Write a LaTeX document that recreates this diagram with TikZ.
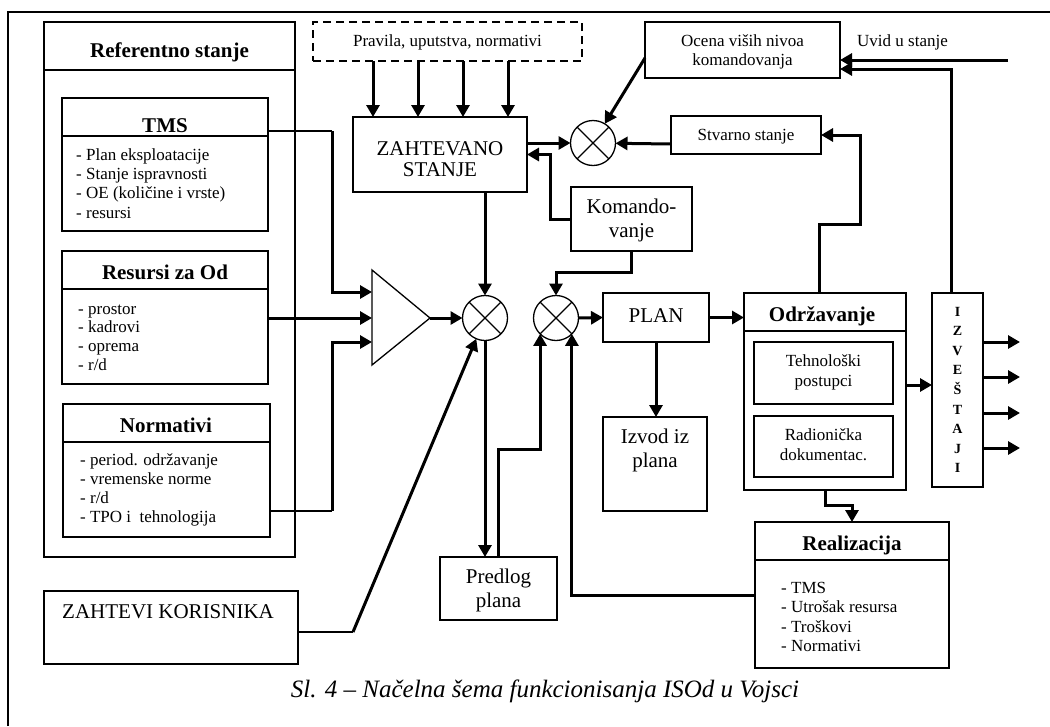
\documentclass[tikz,border=0pt]{standalone}
\usepackage{fontspec}
\setmainfont{Liberation Serif}
\usetikzlibrary{arrows.meta}
\newcommand\fbody{\fontsize{17}{19}\selectfont}
\newcommand\fbig{\fontsize{21}{24}\selectfont}
\newcommand\fhead{\fontsize{21}{24}\selectfont\bfseries}
\newcommand\fizv{\fontsize{14}{16}\selectfont\bfseries}
\newcommand\fcap{\fontsize{25}{28}\selectfont\itshape}
\tikzset{
  box/.style={draw, line width=1.3pt, inner sep=0pt, outer sep=0pt, rectangle, anchor=north west},
  dbox/.style={box, dash pattern=on 8pt off 5pt, line width=2pt},
  sep/.style={line width=1.3pt},
  conn/.style={line width=3pt},
  thinconn/.style={line width=1.4pt},
  arr/.style={-{Triangle[length=12pt,width=13pt]}},
  sum/.style={draw, circle, line width=1.3pt, minimum size=45pt, inner sep=0pt, outer sep=0pt},
  tb/.style={inner sep=0pt, anchor=base, font=\fbody},
  tl/.style={inner sep=0pt, anchor=base west, font=\fbody},
  tg/.style={inner sep=0pt, anchor=base, font=\fbig},
  th/.style={inner sep=0pt, anchor=base, font=\fhead},
}
\begin{document}
\begin{tikzpicture}[x=1pt,y=-1pt]
\useasboundingbox (0,0) rectangle (1050,726);
% frame
\draw[line width=1.3pt] (8,726) -- (8,12) -- (1050,12);

% Referentno stanje
\node[box, minimum width=251pt, minimum height=535pt] (ref) at (44,22) {};
\draw[sep] (44,70) -- (295,70);
\node[th] (refT) at (169.5,57) {Referentno stanje};

% TMS
\node[box, minimum width=206pt, minimum height=133pt] (tms) at (62,98) {};
\draw[sep] (62,136) -- (268,136);
\node[th] (tmsT) at (165,132) {TMS};
\node[tl] (tms1) at (76,160.5) {- Plan eksploatacije};
\node[tl] (tms2) at (76,179.7) {- Stanje ispravnosti};
\node[tl] (tms3) at (76,198.9) {- OE (količine i vrste)};
\node[tl] (tms4) at (76,218.1) {- resursi};

% Resursi za Od
\node[box, minimum width=206pt, minimum height=133pt] (rs) at (62,251) {};
\draw[sep] (62,289) -- (268,289);
\node[th] (rsT) at (165,279) {Resursi za Od};
\node[tl] (rs1) at (78,314) {- prostor};
\node[tl] (rs2) at (78,332.8) {- kadrovi};
\node[tl] (rs3) at (78,351.6) {- oprema};
\node[tl] (rs4) at (78,370.4) {- r/d};

% Normativi
\node[box, minimum width=207pt, minimum height=133pt] (nm) at (63,404) {};
\draw[sep] (63,442) -- (270,442);
\node[th] (nmT) at (166,432) {Normativi};
\node[tl] (nm1) at (80,465) {- period. održavanje};
\node[tl] (nm2) at (80,484) {- vremenske norme};
\node[tl] (nm3) at (80,503) {- r/d};
\node[tl] (nm4) at (80,522) {- TPO i~ tehnologija};

% Zahtevi korisnika
\node[box, minimum width=254pt, minimum height=73pt] (zk) at (44,591) {};
\node[inner sep=0pt, anchor=base west, font=\fbig] (zkT) at (62,618) {ZAHTEVI KORISNIKA};

% Pravila
\node[dbox, minimum width=269pt, minimum height=39pt] (pr) at (313,22) {};
\node[tb] (prT) at (447.5,46.7) {Pravila, uputstva, normativi};

% Zahtevano stanje
\node[box, minimum width=174pt, minimum height=75pt] (zs) at (353,117) {};
\node[tg] (zs1) at (440,155) {ZAHTEVANO};
\node[tg] (zs2) at (440,176) {STANJE};

% Ocena
\node[box, minimum width=195pt, minimum height=56pt] (oc) at (645,22) {};
\node[tb] (oc1) at (742.5,46.5) {Ocena viših nivoa};
\node[tb] (oc2) at (742.5,65) {komandovanja};
\node[tl] (uvid) at (857,46.5) {Uvid u stanje};

% Stvarno stanje
\node[box, minimum width=150pt, minimum height=38pt] (st) at (671,116) {};
\node[tb] (stT) at (746,140) {Stvarno stanje};

% Komandovanje
\node[box, minimum width=121pt, minimum height=64pt] (km) at (571,187) {};
\node[tg] (km1) at (631.5,213) {Komando-};
\node[tg] (km2) at (631.5,237) {vanje};

% summing junctions
\node[sum] (c1) at (485,318) {};
\node[sum] (c2) at (556,318) {};
\node[sum] (c3) at (593,143) {};
\foreach \c in {c1,c2,c3}
  \draw[sep] (\c.45) -- (\c.225) (\c.135) -- (\c.315);

% amplifier triangle
\draw[sep] (372,270) -- (430,318) -- (372,365) -- cycle;
\coordinate (t1) at (372,292);
\coordinate (t2) at (372,318);
\coordinate (t3) at (372,342);
\coordinate (tt) at (430,318);

% Plan
\node[box, minimum width=106pt, minimum height=49pt] (pl) at (603,293) {};
\node[tg] (plT) at (656,322) {PLAN};

% Izvod iz plana
\node[box, minimum width=104pt, minimum height=94pt] (iz) at (603,417) {};
\node[tg] (iz1) at (655,443) {Izvod iz};
\node[tg] (iz2) at (655,467) {plana};

% Predlog plana
\node[box, minimum width=117pt, minimum height=63pt] (pp) at (440,557) {};
\node[tg] (pp1) at (498.5,583) {Predlog};
\node[tg] (pp2) at (498.5,607) {plana};

% Odrzavanje
\node[box, minimum width=162pt, minimum height=197pt] (od) at (744,293) {};
\draw[sep] (744,331) -- (906,331);
\node[th] (odT) at (822,321) {Održavanje};
\node[box, minimum width=139pt, minimum height=62pt] (tp) at (754,342) {};
\node[tb] (tp1) at (823.5,366.5) {Tehnološki};
\node[tb] (tp2) at (823.5,386.5) {postupci};
\node[box, minimum width=139pt, minimum height=61pt] (rd) at (754,416) {};
\node[tb] (rd1) at (823.5,440) {Radionička};
\node[tb] (rd2) at (823.5,460) {dokumentac.};

% Izvestaji
\node[box, minimum width=51pt, minimum height=194pt] (izv) at (932,293) {};
\foreach \l [count=\i from 0] in {I,Z,V,E,Š,T,A,J,I}
  \node[inner sep=0pt, anchor=base, font=\fizv] (izvL\i) at (957.5,316+19.6*\i) {\l};

% Realizacija
\node[box, minimum width=194pt, minimum height=146pt] (re) at (755,522) {};
\draw[sep] (755,560) -- (949,560);
\node[th] (reT) at (852,550) {Realizacija};
\node[tl] (re1) at (781,593) {- TMS};
\node[tl] (re2) at (781,612.5) {- Utrošak resursa};
\node[tl] (re3) at (781,632) {- Troškovi};
\node[tl] (re4) at (781,651.5) {- Normativi};

% caption
\node[inner sep=0pt, anchor=base, font=\fcap] (cap) at (545,697) {Sl. 4 – Načelna šema funkcionisanja ISOd u Vojsci};

% ---------- connectors ----------
\foreach \x in {373,418,463,508}
  \draw[conn,arr] (pr.south -| \x,0) -- (zs.north -| \x,0);
\draw[conn,arr] (zs.east |- c3) -- (c3.west);
\draw[conn,arr] ([yshift=-8pt]oc.west) -- (c3);
\draw[conn,arr] ([yshift=-9pt]st.west) -- (c3);
\draw[conn,arr] (km.west) -- ++(-21,0) |- (zs.east);
\draw[conn,arr] (km.south) -- ++(0,21) -| (c2.north);

\coordinate (tmsj) at (332,131);
\draw[thinconn] (tms.east |- tmsj) -- (tmsj);
\draw[conn,arr] (tmsj) |- (t1);
\draw[conn,arr] (rs.east |- t2) -- (t2);
\coordinate (nmj) at (332,511);
\draw[thinconn] (nm.east |- nmj) -- (nmj);
\draw[conn,arr] (nmj) |- (t3);
\draw[conn,arr] (tt) -- (c1.west);
\draw[conn,arr] (zs.south -| c1) -- (c1.north);
\coordinate (zkj) at (353,632);
\draw[thinconn] (zk.east |- zkj) -- (zkj);
\draw[conn,arr] (zkj) -- (c1);
\draw[conn,arr] (c1.south) -- (c1.south |- pp.north);
\draw[conn,arr] (pp.north -| 498,0) -- (498,449) -| (c2.south west);
\draw[conn,arr] (re.west |- 0,595) -| (c2.south east);
\draw[conn,arr] (c2.east) -- (pl.west);
\draw[conn,arr] (pl.east) -- (od.west |- pl.east);
\draw[conn,arr] (pl.south) -- (pl.south |- iz.north);
\draw[conn,arr] (od.east |- 0,385) -- (izv.west |- 0,385);
\draw[conn,arr] (od.north -| 819,0) -- (819,224) -- (860,224) |- (st.east);
\draw[conn,arr] (izv.north -| 951,0) |- (oc.east |- 0,69);
\coordinate (uvidS) at (1008,60);
\draw[conn,arr] (uvidS) -- (oc.east |- uvidS);
\foreach \y [count=\i] in {342,377,413,448} {
  \coordinate (out\i) at (1020,\y);
  \draw[conn,arr] (izv.east |- out\i) -- (out\i);
}
\draw[conn,arr] (od.south -| 825,0) -- (825,505) -| (re.north);
\end{tikzpicture}
\end{document}
